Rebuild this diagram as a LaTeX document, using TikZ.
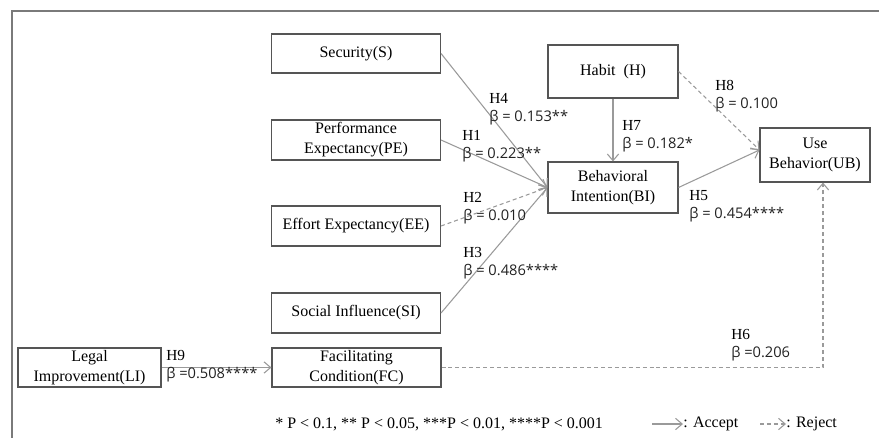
\documentclass[tikz,border=0pt]{standalone}
\usepackage{fontspec}
\setmainfont{Liberation Serif}
\newfontfamily\lblfont{Open Sans}
\usetikzlibrary{arrows.meta,calc}
\definecolor{boxgray}{HTML}{555555}
\definecolor{linegray}{HTML}{9A9A9A}
\definecolor{framegray}{HTML}{7A7A7A}
\definecolor{labtext}{HTML}{222222}
\newcommand{\betaline}[1]{{\lblfont\fontsize{11}{13.5}\selectfont\color{labtext}#1}}
\begin{document}
\begin{tikzpicture}[x=0.75pt,y=-0.75pt,
  box/.style={draw=boxgray, line width=0.8pt, inner sep=0pt, align=center, font=\fontsize{12}{15}\selectfont, text=black},
  conn/.style={draw=linegray, line width=0.8pt, -{Straight Barb[length=5pt,width=8.5pt,line width=0.8pt]}},
  rej/.style={conn, dash pattern=on 3pt off 2.2pt},
  lab/.style={align=left, inner sep=0pt, anchor=west, font=\fontsize{11.5}{13.5}\selectfont},
  legtext/.style={inner sep=0pt, anchor=west, font=\fontsize{12}{14}\selectfont},
]
\useasboundingbox (0,0) rectangle (879,438);
\draw[framegray, line width=1.3pt] (12,438) -- (12,11) -- (879,11);

\node[box, minimum width=126.75pt, minimum height=29.25pt] (S) at (356,53.5) {Security(S)};
\node[box, minimum width=126.75pt, minimum height=30pt] (PE) at (356,140) {Performance\\Expectancy(PE)};
\node[box, minimum width=126.75pt, minimum height=30pt] (EE) at (356,226) {Effort Expectancy(EE)};
\node[box, minimum width=126.75pt, minimum height=30pt] (SI) at (356,313) {Social Influence(SI)};
\node[box, minimum width=126.75pt, minimum height=29.25pt] (FC) at (356.5,367.5) {Facilitating\\Condition(FC)};
\node[box, minimum width=107.25pt, minimum height=29.25pt] (LI) at (89.5,367.5) {Legal\\Improvement(LI)};
\node[box, minimum width=97.5pt, minimum height=39.75pt] (H) at (613,71.5) {Habit\ \ (H)};
\node[box, minimum width=97.5pt, minimum height=38.25pt] (BI) at (613,187.5) {Behavioral\\Intention(BI)};
\node[box, minimum width=82.5pt, minimum height=40.5pt] (UB) at (815,155) {Use\\Behavior(UB)};

\coordinate (ubin) at ($(UB.west)+(0,-5)$);
\coordinate (ubbot) at ($(UB.south)+(8,0)$);

\draw[conn] (S.east) -- (BI.west);
\draw[conn] (PE.east) -- (BI.west);
\draw[rej] (EE.east) -- (BI.west);
\draw[conn] (SI.east) -- (BI.west);
\draw[conn] (H.south) -- (BI.north);
\draw[rej] (H.east) -- (ubin);
\draw[conn] (BI.east) -- (ubin);
\draw[rej] (FC.east) -| (ubbot);
\draw[conn] (LI.east) -- (FC.west);

\node[lab] (l4) at (489,109) {H4\\\betaline{β = 0.153**}};
\node[lab] (l1) at (462,146) {H1\\\betaline{β = 0.223**}};
\node[lab] (l2) at (463,208.5) {H2\\\betaline{β = 0.010}};
\node[lab] (l3) at (463,263.5) {H3\\\betaline{β = 0.486****}};
\node[lab] (l5) at (689,206) {H5\\\betaline{β = 0.454****}};
\node[lab] (l6) at (731,345.5) {H6\\\betaline{β =0.206}};
\node[lab] (l7) at (622,136.5) {H7\\\betaline{β = 0.182*}};
\node[lab] (l8) at (715,96.5) {H8\\\betaline{β = 0.100}};
\node[lab] (l9) at (166,366.5) {H9\\\betaline{β =0.508****}};

\node[legtext] (pv) at (275,424) {* P < 0.1, ** P < 0.05, ***P < 0.01, ****P < 0.001};
\coordinate (a1) at (652,424);
\coordinate (a2) at (683,424);
\draw[conn] (a1) -- (a2);
\node[legtext] (acc) at (683,424) {: Accept};
\coordinate (r1) at (760,424);
\coordinate (r2) at (786,424);
\draw[rej] (r1) -- (r2);
\node[legtext] (rejt) at (786,424) {: Reject};
\end{tikzpicture}
\end{document}
